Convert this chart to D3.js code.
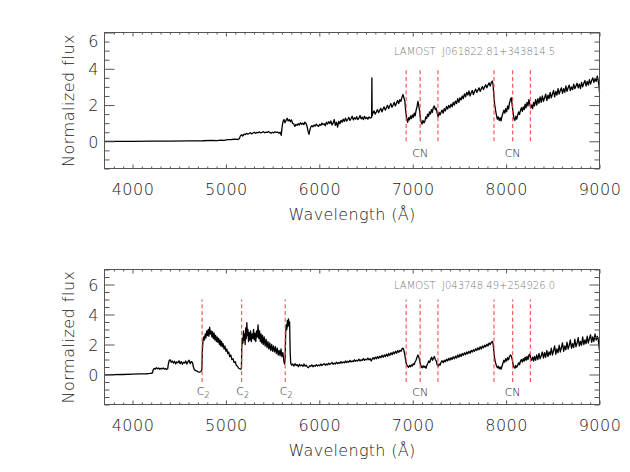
<!DOCTYPE html>
<html><head><meta charset="utf-8">
<script src="https://cdn.jsdelivr.net/npm/d3@7"></script>
<style>
html,body{margin:0;padding:0;background:#fff;}
text{font-family:"DejaVu Sans",sans-serif;font-weight:200;}
</style></head>
<body>
<svg id="c" width="630" height="472"></svg>
<script>
// ---------- data ----------
const xTicks = [4000,5000,6000,7000,8000,9000];
const yTicks = [0,2,4,6];
const cnLines = [6930,7080,7270,7870,8070,8260];
const cnLabelAt = [7080,8070];
const c2Lines = [4745,5168,5635];
const topName = "LAMOST  J061822.81+343814.5";
const botName = "LAMOST  J043748.49+254926.0";

// [wavelength (Å), normalized flux]
const topSpectrum = [[3700,0],[3850,0.0],[4000,0.0],[4200,0.01],[4400,0.01],[4600,0.02],[4750,0.03],[4850,0.05],[4900,0.04],[4950,0.07],[4980,0.05],[5020,0.09],[5060,0.1],[5100,0.12],[5130,0.1],[5145,0.16],
[5155,0.3],[5168,0.36],[5180,0.29],[5195,0.4],[5208,0.37],[5220,0.44],[5235,0.39],[5248,0.43],[5262,0.47],[5275,0.41],[5290,0.46],[5303,0.5],[5318,0.44],[5330,0.49],[5345,0.47],[5360,0.52],[5373,0.46],[5388,0.5],[5400,0.53],[5415,0.47],[5430,0.51],[5443,0.49],[5458,0.54],[5470,0.48],[5485,0.45],[5498,0.5],[5512,0.47],[5525,0.52],[5540,0.49],[5553,0.51],[5568,0.45],[5580,0.5],[5592,0.33],
[5603,0.85],[5612,1.1],[5622,1.2],[5632,1.02],[5643,1.15],[5655,1.27],[5666,1.12],[5678,1.2],[5690,1.08],[5702,1.18],[5714,1.0],[5726,0.95],[5738,0.82],[5750,0.93],[5762,0.88],[5774,0.97],[5786,0.9],[5798,1.02],[5810,0.94],[5822,1.0],[5834,0.92],[5846,1.06],[5858,0.98],[5870,0.8],[5880,0.55],[5890,0.38],[5898,0.6],[5908,0.78],[5920,0.86],[5932,0.8],[5944,0.9],[5956,0.84],[5968,0.95],[5980,0.87],[5992,0.82],[6004,0.93],[6016,0.88],[6028,1.0],[6040,0.92],[6052,0.97],[6064,0.86],[6076,1.05],[6088,0.95],[6100,1.08],[6112,0.98],[6124,1.12],[6136,0.9],[6148,1.0],[6160,1.2],[6172,0.88],[6184,1.05],[6196,0.78],[6208,1.1],[6220,0.97],[6232,1.15],[6244,1.05],[6256,1.22],[6268,1.1],[6280,1.28],[6292,1.12],[6304,1.2],[6316,1.32],[6328,1.15],[6340,1.26],[6352,1.38],[6364,1.18],[6376,1.3],[6388,1.22],[6400,1.36],[6412,1.2],[6424,1.28],[6436,1.42],[6448,1.24],[6460,1.33],[6472,1.2],[6484,1.38],[6496,1.25],[6508,1.32],[6520,1.22],[6532,1.35],[6544,1.28],[6554,1.3],[6560,1.32],[6563,3.5],[6566,1.4],
[6574,1.55],[6586,1.68],[6598,1.5],[6610,1.62],[6622,1.75],[6634,1.58],[6646,1.7],[6658,1.82],[6670,1.62],[6682,1.78],[6694,1.9],[6706,1.72],[6718,1.85],[6730,1.98],[6742,1.8],[6754,1.95],[6766,2.08],[6778,1.88],[6790,2.0],[6802,2.15],[6814,1.95],[6826,2.1],[6838,2.25],[6850,2.08],[6862,2.3],[6874,2.2],[6886,2.45],[6896,2.58],[6906,2.4],[6916,2.2],[6926,1.6],[6936,1.25],[6946,1.05],[6956,1.3],[6966,1.18],[6976,1.4],[6986,1.25],[6996,1.45],[7006,1.32],[7016,1.55],[7026,1.4],[7036,1.7],[7046,1.9],[7056,2.2],[7064,2.0],[7072,1.75],[7080,1.35],[7090,1.05],[7100,0.95],[7110,1.15],[7120,1.02],[7130,1.1],[7140,1.35],[7150,1.25],[7160,1.5],[7170,1.38],[7180,1.62],[7190,1.5],[7200,1.75],[7210,1.6],[7220,1.85],[7232,1.95],[7242,1.75],[7252,1.82],[7262,1.55],[7272,1.35],[7282,1.6],[7292,1.45],
[7302,1.58],[7314,1.72],[7326,1.55],[7338,1.8],[7350,1.68],[7362,1.92],[7374,1.78],[7386,1.98],[7398,1.85],[7410,2.05],[7422,1.9],[7434,2.15],[7446,2.0],[7458,2.22],[7470,2.08],[7482,2.35],[7494,2.15],[7506,2.4],[7518,2.28],[7530,2.5],[7542,2.35],[7554,2.62],[7566,2.45],[7578,2.7],[7590,2.55],[7602,2.78],[7614,2.5],[7626,2.68],[7638,2.8],[7650,2.58],[7662,2.75],[7674,2.88],[7686,2.7],[7698,2.82],[7710,2.95],[7722,2.75],[7734,2.9],[7746,3.02],[7758,2.85],[7770,3.0],[7782,3.12],[7794,2.95],[7806,3.1],[7818,3.22],[7830,3.05],[7842,3.25],[7852,3.32],[7860,3.15],[7868,2.6],[7876,2.1],[7886,1.75],[7896,1.45],[7906,1.22],[7916,1.35],[7926,1.15],[7936,1.3],[7946,1.12],[7956,1.38],[7966,1.55],[7976,1.72],[7986,1.55],[7996,1.8],[8006,1.62],[8016,1.95],[8026,1.78],[8036,2.1],[8046,2.3],[8056,2.4],[8064,2.05],[8074,1.6],[8084,1.25],[8094,1.15],[8104,1.38],[8114,1.22],[8124,1.45],[8134,1.62],[8144,1.48],[8154,1.7],[8164,1.85],[8174,1.65],[8184,1.9],[8194,1.75],[8204,2.05],[8214,1.85],[8224,2.15],[8234,1.95],[8244,2.3],[8254,2.05],[8264,1.85],[8274,2.0],[8284,1.8],[8294,2.15],
[8304,1.95],[8316,2.3],[8328,2.0],[8340,2.35],[8352,2.1],[8364,2.45],[8376,2.15],[8388,2.5],[8400,2.2],[8412,2.4],[8424,2.6],[8436,2.25],[8448,2.55],[8460,2.35],[8472,2.7],[8484,2.4],[8496,2.6],[8508,2.8],[8520,2.45],[8532,2.75],[8544,2.55],[8556,2.9],[8568,2.6],[8580,2.8],[8592,2.95],[8604,2.65],[8616,2.9],[8628,2.7],[8640,3.05],[8652,2.75],[8664,2.95],[8676,3.1],[8688,2.8],[8700,3.0],[8712,2.85],[8724,3.15],[8736,2.9],[8748,3.05],[8760,3.2],[8772,2.95],[8784,3.15],[8796,2.9],[8808,3.25],[8820,3.0],[8832,3.2],[8844,3.35],[8856,3.05],[8868,3.3],[8880,3.1],[8892,3.4],[8904,3.15],[8916,3.35],[8928,3.5],[8940,3.25],[8952,3.45],[8964,3.3],[8976,3.6],[8986,3.35],[8994,3.1],[9000,2.7]];

const botSpectrum = [[3700,-0.02],[3800,-0.01],[3900,0.0],[4000,0.02],[4080,0.04],[4150,0.05],[4190,0.07],[4212,0.1],
[4222,0.32],[4232,0.4],[4244,0.36],[4256,0.45],[4268,0.38],[4280,0.43],[4292,0.35],[4304,0.41],[4316,0.37],[4328,0.44],[4340,0.36],[4352,0.4],[4364,0.34],[4376,0.38],
[4384,0.7],[4392,0.92],[4402,0.98],[4414,0.82],[4426,0.9],[4438,0.76],[4450,0.88],[4462,0.7],[4474,0.84],[4486,0.78],[4498,0.92],[4510,0.72],[4522,0.86],[4534,0.68],[4546,0.82],[4558,0.76],[4570,0.9],[4582,0.7],[4594,0.85],[4606,0.95],[4618,0.72],[4630,0.86],[4642,0.8],[4652,0.5],[4662,0.32],[4676,0.26],[4690,0.22],[4704,0.18],[4718,0.16],[4732,0.2],[4742,0.3],
[4748,1.6],[4754,2.2],[4762,2.5],[4770,2.3],[4778,2.7],[4786,2.45],[4794,2.9],[4802,2.6],[4810,3.0],[4818,2.55],[4826,3.15],[4834,2.7],[4842,2.9],[4850,2.5],[4858,2.85],[4866,2.4],[4874,2.75],[4882,2.3],[4890,2.6],[4898,2.2],[4906,2.5],[4914,2.15],[4922,2.4],[4930,2.0],[4938,2.3],[4946,1.9],[4954,2.2],[4962,1.85],[4970,2.05],[4980,1.7],[4990,1.9],[5000,1.55],[5010,1.7],[5020,1.4],[5030,1.5],[5040,1.2],[5052,1.3],[5064,1.0],[5076,1.05],[5088,0.8],[5100,0.85],[5112,0.6],[5124,0.55],[5136,0.42],[5148,0.38],[5160,0.35],[5166,0.45],
[5170,1.8],[5176,2.4],[5182,2.1],[5188,2.9],[5194,2.3],[5200,2.7],[5206,2.0],[5212,3.1],[5218,2.4],[5224,3.45],[5230,2.6],[5236,3.0],[5242,2.2],[5248,2.8],[5256,2.3],[5264,2.9],[5272,2.2],[5280,2.7],[5288,2.4],[5296,3.0],[5304,2.3],[5312,2.75],[5320,2.2],[5328,2.9],[5336,2.5],[5344,3.3],[5352,2.4],[5360,2.9],[5368,2.2],[5376,2.7],[5384,2.1],[5392,2.6],[5400,2.0],[5410,2.5],[5420,1.9],[5430,2.35],[5440,1.8],[5450,2.2],[5460,1.7],[5470,2.1],[5480,1.6],[5490,2.0],[5500,1.55],[5510,1.9],[5520,1.5],[5530,1.85],[5540,1.4],[5550,1.75],[5560,1.3],[5570,1.6],[5580,1.25],[5590,1.7],[5600,1.2],[5610,1.45],[5620,0.9],[5628,0.7],[5634,1.0],
[5640,2.8],[5646,3.3],[5652,3.0],[5658,3.6],[5664,3.2],[5670,3.7],[5676,3.3],[5682,3.5],[5688,1.5],[5694,0.75],[5704,0.62],[5716,0.7],[5728,0.56],[5740,0.72],[5752,0.6],[5764,0.66],[5776,0.52],[5788,0.68],[5800,0.58],[5812,0.64],[5824,0.54],[5836,0.7],[5848,0.56],[5860,0.62],[5872,0.5],[5884,0.45],[5896,0.58],[5908,0.55],[5920,0.64],[5932,0.52],[5944,0.6],[5956,0.55],[5968,0.66],[5980,0.57],[5992,0.63],[6004,0.58],[6016,0.7],[6028,0.6],[6040,0.66],[6052,0.72],[6064,0.62],[6076,0.7],[6088,0.64],[6100,0.76],[6112,0.66],[6124,0.74],[6136,0.8],[6148,0.68],[6160,0.76],[6172,0.7],[6184,0.82],[6196,0.72],[6208,0.8],[6220,0.74],[6232,0.86],[6244,0.76],[6256,0.84],[6268,0.78],[6280,0.9],[6292,0.8],[6304,0.88],[6316,0.82],[6328,0.94],[6340,0.84],[6352,0.9],[6364,0.86],[6376,0.98],[6388,0.88],[6400,0.95],[6412,0.9],[6424,1.02],[6436,0.9],[6448,0.98],[6460,0.94],[6472,1.06],[6484,0.94],[6496,1.02],[6508,0.98],[6520,1.1],[6532,0.98],[6544,1.06],[6556,0.9],[6564,1.0],
[6576,1.12],[6588,1.02],[6600,1.16],[6612,1.05],[6624,1.2],[6636,1.08],[6648,1.22],[6660,1.12],[6672,1.28],[6684,1.15],[6696,1.3],[6708,1.2],[6720,1.36],[6732,1.22],[6744,1.4],[6756,1.28],[6768,1.45],[6780,1.32],[6792,1.5],[6804,1.38],[6816,1.55],[6828,1.42],[6840,1.6],[6852,1.48],[6864,1.62],[6876,1.55],[6886,1.72],[6896,1.76],[6906,1.6],[6916,1.3],[6926,0.85],[6936,0.65],[6946,0.55],[6956,0.48],[6966,0.6],[6976,0.52],[6986,0.64],[6996,0.56],[7006,0.72],[7016,0.66],[7026,0.85],[7036,0.95],[7046,1.15],[7056,1.3],[7064,1.2],[7072,1.0],[7082,0.7],[7092,0.52],[7102,0.45],[7112,0.58],[7122,0.48],[7132,0.55],[7142,0.42],[7152,0.62],[7162,0.75],[7172,0.9],[7182,0.8],[7192,1.02],[7202,1.15],[7212,0.95],[7222,1.1],[7232,1.2],[7242,1.0],[7252,0.9],[7262,0.65],[7272,0.55],[7282,0.7],[7292,0.62],
[7302,0.8],[7314,0.92],[7326,0.78],[7338,0.95],[7350,0.85],[7362,1.02],[7374,0.9],[7386,1.08],[7398,0.96],[7410,1.12],[7422,1.0],[7434,1.18],[7446,1.05],[7458,1.22],[7470,1.1],[7482,1.3],[7494,1.15],[7506,1.35],[7518,1.2],[7530,1.4],[7542,1.28],[7554,1.45],[7566,1.32],[7578,1.5],[7590,1.38],[7602,1.55],[7614,1.42],[7626,1.6],[7638,1.5],[7650,1.65],[7662,1.55],[7674,1.72],[7686,1.6],[7698,1.78],[7710,1.65],[7722,1.85],[7734,1.7],[7746,1.9],[7758,1.78],[7770,1.95],[7782,1.85],[7794,2.02],[7806,1.9],[7818,2.1],[7830,2.0],[7842,2.15],[7852,2.2],[7860,2.05],[7868,1.6],[7876,1.1],[7886,0.8],[7896,0.6],[7906,0.45],[7916,0.55],[7926,0.38],[7936,0.5],[7946,0.35],[7956,0.55],[7966,0.75],[7976,0.95],[7986,0.82],[7996,1.05],[8006,0.9],[8016,1.12],[8026,0.98],[8036,1.2],[8046,1.3],[8056,1.22],[8064,1.05],[8074,0.7],[8084,0.5],[8094,0.42],[8104,0.6],[8114,0.48],[8124,0.62],[8134,0.78],[8144,0.65],[8154,0.9],[8164,1.0],[8174,0.82],[8184,1.05],[8194,0.9],[8204,1.15],[8214,0.95],[8224,1.2],[8234,1.0],[8244,1.28],[8254,1.35],[8264,1.05],[8274,0.95],[8284,1.15],[8294,0.9],
[8304,1.2],[8316,0.95],[8328,1.3],[8340,1.0],[8352,1.4],[8364,1.05],[8376,1.25],[8388,1.5],[8400,1.1],[8412,1.45],[8424,1.15],[8436,1.6],[8448,1.2],[8460,1.5],[8472,1.3],[8484,1.75],[8496,1.3],[8508,1.6],[8520,1.9],[8532,1.35],[8544,1.7],[8556,1.45],[8568,1.95],[8580,1.5],[8592,1.8],[8604,2.1],[8616,1.55],[8628,1.9],[8640,1.65],[8652,2.15],[8664,1.7],[8676,1.95],[8688,2.3],[8700,1.75],[8712,2.05],[8724,1.8],[8736,2.35],[8748,1.85],[8760,2.1],[8772,2.45],[8784,1.9],[8796,2.2],[8808,1.95],[8820,2.5],[8832,2.0],[8844,2.3],[8856,2.05],[8868,2.55],[8880,2.1],[8892,2.4],[8904,2.65],[8916,2.15],[8928,2.5],[8940,2.2],[8952,2.7],[8964,2.3],[8976,2.55],[8986,2.35],[8994,1.9],[9000,1.6]];

// ---------- drawing ----------
const svg = d3.select("#c");
const left = 104.5, right = 599.5;
const axisColor = "#555", textColor = "#222";

function panel(cfg){
  const g = svg.append("g");
  const x = d3.scaleLinear().domain([3700,9000]).range([left,right]);
  const y = d3.scaleLinear().domain(cfg.yDomain).range([cfg.bottom,cfg.top]);

  // spectrum
  g.append("path").datum(cfg.spec)
    .attr("d", d3.line().x(d=>x(d[0])).y(d=>y(d[1])))
    .attr("fill","none").attr("stroke","#000").attr("stroke-width",1.3)
    .attr("stroke-linejoin","round");

  // dashed marker lines
  g.selectAll("line.mk").data(cfg.marks).enter().append("line")
    .attr("x1",d=>x(d)).attr("x2",d=>x(d))
    .attr("y1",y(cfg.markSpan[0])).attr("y2",y(cfg.markSpan[1]))
    .attr("stroke","#f43f3f").attr("stroke-width",1.2).attr("stroke-opacity",0.85)
    .attr("stroke-dasharray","4,2.7");

  // frame
  g.append("rect").attr("x",left).attr("y",cfg.top)
    .attr("width",right-left).attr("height",cfg.bottom-cfg.top)
    .attr("fill","none").attr("stroke",axisColor).attr("stroke-width",1);

  // x axes (bottom labelled, top mirrored)
  const xMinor = d3.range(3800,9000,100).filter(v=>!xTicks.includes(v));
  const gx = g.append("g").attr("transform",`translate(0,${cfg.bottom})`)
    .call(d3.axisBottom(x).tickValues(xTicks).tickSize(-4).tickFormat(d3.format("d")));
  gx.select(".domain").remove();
  g.append("g").attr("transform",`translate(0,${cfg.bottom})`)
    .call(d3.axisBottom(x).tickValues(xMinor).tickSize(-2).tickFormat(""))
    .select(".domain").remove();
  g.append("g").attr("transform",`translate(0,${cfg.top})`)
    .call(d3.axisTop(x).tickValues(xTicks).tickSize(-4).tickFormat(""))
    .select(".domain").remove();
  g.append("g").attr("transform",`translate(0,${cfg.top})`)
    .call(d3.axisTop(x).tickValues(xMinor).tickSize(-2).tickFormat(""))
    .select(".domain").remove();
  gx.selectAll("text").attr("font-size",16).attr("fill",textColor)
    .attr("dy",null).attr("y",26.5).attr("letter-spacing",0.5);

  // y axes
  const yMinor = d3.range(Math.ceil(cfg.yDomain[0]*2)/2, cfg.yDomain[1]+0.01, 0.5)
    .filter(v=>!yTicks.includes(v));
  const gy = g.append("g").attr("transform",`translate(${left},0)`)
    .call(d3.axisLeft(y).tickValues(yTicks).tickSize(-10).tickFormat(d3.format("d")));
  gy.select(".domain").remove();
  gy.selectAll("text").attr("font-size",16).attr("fill",textColor)
    .attr("dy","0.36em").attr("x",-6)
    .attr("transform",d=>{ const yy=y(d); const lim=cfg.top+8; return yy<lim?`translate(0,${lim-yy})`:null; });
  g.append("g").attr("transform",`translate(${left},0)`)
    .call(d3.axisLeft(y).tickValues(yMinor).tickSize(-5).tickFormat(""))
    .select(".domain").remove();
  g.append("g").attr("transform",`translate(${right},0)`)
    .call(d3.axisRight(y).tickValues(yTicks).tickSize(-10).tickFormat(""))
    .select(".domain").remove();
  g.append("g").attr("transform",`translate(${right},0)`)
    .call(d3.axisRight(y).tickValues(yMinor).tickSize(-5).tickFormat(""))
    .select(".domain").remove();
  g.selectAll(".tick line").attr("stroke",axisColor);

  // axis titles
  g.append("text").attr("x",(left+right)/2).attr("y",cfg.bottom+51.5)
    .attr("text-anchor","middle").attr("font-size",16).attr("fill",textColor)
    .attr("letter-spacing",0.3)
    .text("Wavelength (Å)");
  const cy = (cfg.top+cfg.bottom)/2;
  g.append("text").attr("transform",`translate(73.5,${cy}) rotate(-90)`)
    .attr("text-anchor","middle").attr("font-size",16).attr("fill",textColor)
    .attr("letter-spacing",0.5)
    .text("Normalized flux");

  // object name
  g.append("text").attr("x",x(6800)).attr("y",cfg.top+cfg.nameOff)
    .attr("font-size",10).attr("fill","#777")
    .style("white-space","pre")
    .text(cfg.name);

  // CN labels
  g.selectAll("text.cn").data(cnLabelAt).enter().append("text")
    .attr("x",d=>x(d)).attr("y",y(cfg.cnY))
    .attr("text-anchor","middle").attr("font-size",11).attr("fill",textColor)
    .text("CN");

  // C2 labels
  if(cfg.c2){
    cfg.c2.forEach(w=>{
      const t = g.append("text").attr("x",x(w)+1).attr("y",y(cfg.c2Y))
        .attr("text-anchor","middle").attr("font-size",11).attr("fill",textColor);
      t.append("tspan").text("C");
      t.append("tspan").attr("font-size",8).attr("dy",3).text("2");
    });
  }
}

panel({top:32.5,bottom:168.5,yDomain:[-1.5,6],spec:topSpectrum,
  marks:cnLines,markSpan:[0,4],name:topName,nameOff:22.5,cnY:-0.85});
panel({top:269.5,bottom:404.5,yDomain:[-2,7],spec:botSpectrum,
  marks:cnLines.concat(c2Lines),markSpan:[-0.5,5],name:botName,nameOff:19,cnY:-1.45,
  c2:c2Lines,c2Y:-1.35});
</script>
</body></html>
